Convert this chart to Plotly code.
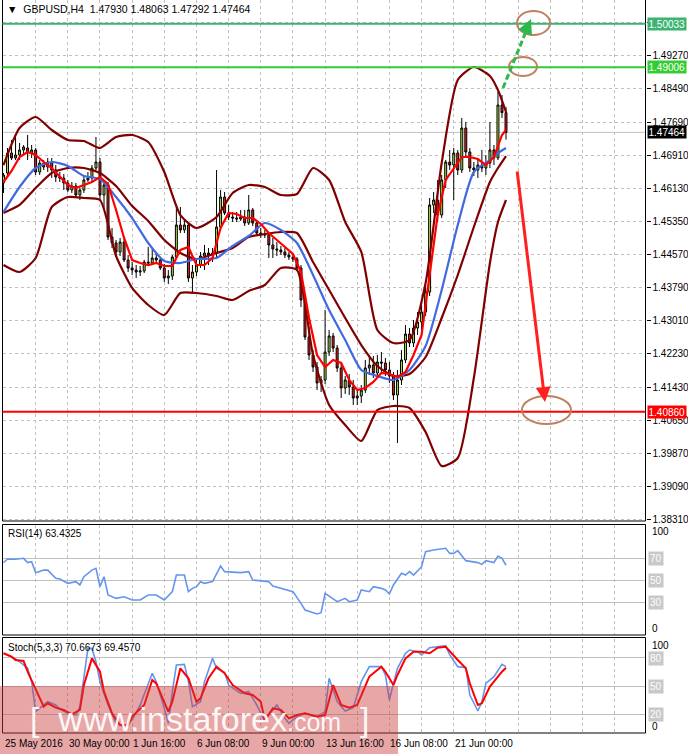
import plotly.graph_objects as go

W, H = 688, 754

# ---------------- data ----------------
time_label_bars = [0, 16, 32, 48, 64, 80, 96, 112]
time_labels = ["25 May 2016", "30 May 00:00", "1 Jun 16:00", "6 Jun 08:00",
               "9 Jun 00:00", "13 Jun 16:00", "16 Jun 08:00", "21 Jun 00:00"]

price_ticks = [1.50050, 1.49270, 1.48490, 1.47690, 1.46910, 1.46130, 1.45350, 1.44570,
               1.43790, 1.43010, 1.42230, 1.41430, 1.40650, 1.39870, 1.39090, 1.38310]

# H4 candles, bar 0 = 25 May 2016
candle_open = [
 1.46267,1.46503,1.46976,1.46858,1.46929,1.47047,1.47094,1.46976,1.47047,1.46527,
 1.4674,1.46645,1.46763,1.46574,1.46409,1.46385,1.46267,1.46101,1.46196,1.45983,
 1.46101,1.46338,1.46385,1.46621,1.46763,1.45983,1.4622,1.4499,1.44849,1.44636,
 1.44872,1.44447,1.44258,1.4421,1.44163,1.44187,1.44399,1.44376,1.44494,1.44447,
 1.44258,1.44021,1.44068,1.44518,1.45274,1.45156,1.45274,1.44021,1.44163,1.44328,
 1.44541,1.44612,1.44565,1.44612,1.45227,1.45936,1.45558,1.45463,1.45439,1.45416,
 1.45463,1.45321,1.45629,1.45321,1.45085,1.45061,1.45038,1.44801,1.44707,1.44683,
 1.44636,1.44565,1.44518,1.4447,1.44258,1.43501,1.42626,1.42201,1.41917,1.41539,
 1.4161,1.42272,1.4265,1.42366,1.41894,1.41421,1.4161,1.41444,1.41184,1.41232,
 1.41373,1.41894,1.41964,1.41775,1.42035,1.42012,1.41846,1.41704,1.41255,1.4161,
 1.42083,1.42697,1.42485,1.42839,1.42981,1.43217,1.4369,1.45747,1.45865,1.4551,
 1.46338,1.46763,1.46692,1.46976,1.46574,1.47567,1.47,1.46621,1.46574,1.46692,
 1.46621,1.4674,1.47047,1.46858,1.48111,1.47930]
candle_high = [
 1.46503,1.47094,1.47283,1.47354,1.47213,1.47165,1.47402,1.47165,1.47094,1.46811,
 1.46811,1.46858,1.46858,1.46692,1.46527,1.4648,1.46338,1.46291,1.46267,1.46149,
 1.46432,1.46527,1.46692,1.47354,1.46858,1.46338,1.46291,1.45203,1.44919,1.44967,
 1.44967,1.44565,1.44399,1.44328,1.44305,1.44447,1.44754,1.4473,1.44636,1.44518,
 1.44352,1.4421,1.44565,1.457,1.457,1.45392,1.45345,1.44328,1.44447,1.44636,
 1.44801,1.4473,1.4473,1.46574,1.46101,1.46054,1.45747,1.45581,1.45581,1.45629,
 1.45629,1.45983,1.45676,1.45392,1.45203,1.45156,1.45109,1.44967,1.44872,1.44778,
 1.4473,1.44636,1.44588,1.44518,1.44328,1.43572,1.42863,1.42319,1.42035,1.41704,
 1.43265,1.42792,1.42721,1.42437,1.41988,1.41704,1.41752,1.4161,1.41373,1.41492,
 1.42083,1.42201,1.42177,1.42201,1.42272,1.4213,1.42035,1.41799,1.41846,1.42319,
 1.4291,1.42839,1.43028,1.43217,1.43383,1.43856,1.45912,1.46054,1.46338,1.46456,
 1.46811,1.47047,1.47094,1.47047,1.47804,1.47709,1.47094,1.46763,1.46858,1.47047,
 1.46929,1.47709,1.47165,1.48418,1.48347,1.48063]
candle_low = [
 1.46031,1.46456,1.46811,1.46811,1.46811,1.46929,1.46811,1.46858,1.46456,1.46456,
 1.46574,1.46527,1.46385,1.46291,1.46291,1.46101,1.46054,1.46031,1.45912,1.45865,
 1.46031,1.46291,1.46291,1.46574,1.45865,1.45629,1.44919,1.4473,1.44518,1.44541,
 1.44399,1.44163,1.44092,1.44021,1.44068,1.44139,1.44305,1.44328,1.44352,1.4421,
 1.43927,1.43879,1.43974,1.44494,1.45085,1.45085,1.43927,1.4369,1.44068,1.44258,
 1.4421,1.44328,1.44399,1.44494,1.45156,1.4551,1.45392,1.45345,1.45345,1.45369,
 1.4525,1.45274,1.4525,1.45014,1.44967,1.44967,1.44494,1.44494,1.44541,1.44565,
 1.44494,1.44447,1.44399,1.44187,1.43336,1.42555,1.42083,1.41799,1.41373,1.41326,
 1.41515,1.42177,1.42272,1.41799,1.41184,1.41279,1.41255,1.41019,1.41019,1.41066,
 1.41303,1.41728,1.41657,1.41681,1.41799,1.41704,1.41539,1.41137,1.4012,1.41492,
 1.42012,1.4239,1.4239,1.42674,1.42792,1.43123,1.43596,1.45558,1.45345,1.45439,
 1.46149,1.46574,1.45865,1.46456,1.46503,1.46905,1.46527,1.46432,1.46385,1.46527,
 1.46456,1.46621,1.46692,1.46811,1.47804,1.47292]
candle_close = [
 1.46456,1.46976,1.46858,1.46929,1.47047,1.47118,1.46976,1.47047,1.46527,1.4674,
 1.46645,1.46763,1.46574,1.46409,1.46385,1.46267,1.46101,1.46196,1.45983,1.46101,
 1.46338,1.46385,1.46621,1.46763,1.45983,1.4622,1.4499,1.44849,1.44636,1.44872,
 1.44447,1.44258,1.4421,1.44163,1.44187,1.44399,1.44376,1.44494,1.44447,1.44258,
 1.44021,1.44068,1.44518,1.45274,1.45156,1.45274,1.44021,1.44163,1.44328,1.44541,
 1.44612,1.44565,1.44612,1.45227,1.45936,1.45558,1.45463,1.45439,1.45416,1.45463,
 1.45321,1.45629,1.45321,1.45085,1.45061,1.45038,1.44801,1.44707,1.44683,1.44636,
 1.44565,1.44518,1.4447,1.44258,1.43501,1.42626,1.42201,1.41917,1.41539,1.4161,
 1.42272,1.4265,1.42366,1.41894,1.41421,1.4161,1.41444,1.41184,1.41232,1.41373,
 1.41894,1.41964,1.41775,1.42035,1.42012,1.41846,1.41704,1.41255,1.4161,1.42083,
 1.42697,1.42485,1.42839,1.42981,1.43217,1.4369,1.45747,1.45865,1.4551,1.46338,
 1.46763,1.46692,1.46976,1.46574,1.47567,1.47,1.46621,1.46574,1.46692,1.46621,
 1.4674,1.47047,1.46858,1.48111,1.47930,1.47464]

bb_idx = [0,4,8,12,16,20,24,28,32,36,40,44,48,53,57,61,65,69,73,77,81,85,89,93,97,101,105,109,113,117,121,123,125]
bb_upper = [1.46692,1.47567,1.47827,1.4752,1.47283,1.4726,1.47094,1.47354,1.47402,1.47236,1.46527,1.4551,
            1.45203,1.45463,1.4603,1.4622,1.46172,1.45983,1.46007,1.46621,1.46338,1.45345,1.44636,1.42792,
            1.42484,1.42555,1.43903,1.4674,1.48702,1.49009,1.48796,1.48465,1.47945]
bb_middle = [1.45558,1.45747,1.46149,1.46503,1.46621,1.46621,1.46503,1.46196,1.45723,1.45369,1.44919,1.44612,
             1.4447,1.44612,1.4473,1.4499,1.45061,1.45109,1.45085,1.44399,1.43737,1.43075,1.42437,1.41941,
             1.41704,1.41752,1.42153,1.43075,1.44092,1.45227,1.46291,1.46621,1.46905]
bb_lower = [1.44328,1.44163,1.44494,1.457,1.45936,1.45912,1.45865,1.44541,1.43785,1.43383,1.43146,1.43666,
            1.43666,1.43596,1.43501,1.43714,1.43856,1.44257,1.4421,1.42201,1.41019,1.40546,1.40168,1.409,
            1.40995,1.40948,1.40381,1.39577,1.39766,1.41657,1.44376,1.45345,1.45865]
ma_slow = [1.45581,1.46172,1.46621,1.46763,1.46669,1.46432,1.46361,1.45936,1.45439,1.44848,1.44423,1.44376,
           1.4447,1.44494,1.44778,1.45014,1.45321,1.45156,1.44848,1.44092,1.43264,1.42555,1.41846,1.41704,
           1.4161,1.41846,1.42413,1.43737,1.45274,1.46527,1.4681,1.46976,1.47094]

ma_fast_idx = [0,2,4,6,8,10,12,14,16,18,20,22,24,26,28,30,32,34,36,38,40,42,44,46,48,50,52,54,56,58,60,
               62,64,66,68,70,72,74,76,78,80,82,84,86,88,90,92,94,96,98,100,102,104,106,108,110,112,114,
               116,118,120,122,124,125]
ma_fast = [1.46291,1.46551,1.46882,1.47,1.46929,1.46763,1.46621,1.46409,1.4622,1.46149,1.4622,1.46291,
           1.46409,1.46243,1.45628,1.44967,1.44446,1.44376,1.44328,1.44376,1.44305,1.44305,1.44683,1.44754,
           1.44328,1.44328,1.44494,1.45203,1.45558,1.45534,1.45439,1.45439,1.45298,1.45085,1.44919,1.44754,
           1.44588,1.44163,1.43075,1.42201,1.41917,1.42082,1.42012,1.4161,1.41373,1.41421,1.41563,1.41775,
           1.41752,1.41681,1.41799,1.42201,1.42674,1.44092,1.4551,1.46338,1.46621,1.46882,1.46882,1.46834,
           1.46692,1.46882,1.47402,1.4752]

rsi_idx = [0,1,3,5,6,7,8,10,11,13,14,16,18,19,20,22,23,24,25,26,28,30,32,34,36,38,40,42,43,45,46,47,48,49,50,
           52,54,55,59,61,62,65,66,67,69,71,72,74,75,78,79,80,83,85,86,88,89,91,92,94,95,96,97,99,100,101,
           102,104,105,107,110,111,112,113,115,118,119,120,122,123,124,125]
rsi_val = [65.7,69.1,68.8,69.7,65.8,66.7,56.6,59,59,51.5,50.9,47,48.5,45.5,53,59,60.6,44,53,36.4,33.3,34.8,
           31.8,31.8,36.4,36.4,31.8,39.4,54.5,54.5,39.4,42.4,43.9,48.5,47,48.5,62.7,57.6,56.7,57.6,50,48.5,
           48.5,44.5,42.4,40.9,39.4,28.8,22.7,19.1,20.3,37.9,30.3,33.3,30.3,31.8,40.9,39.4,43.9,42.4,40.9,
           37.3,45.5,56.1,54.5,57.6,54.5,62.1,75.8,77.3,78.8,74.2,74.2,76.7,67.6,65.8,64.2,67.6,65.8,71.8,
           69.7,63.4]

stoch_k_idx = [0,1,3,4,6,7,8,10,11,13,14,16,18,19,21,22,23,24,26,28,30,32,34,37,38,40,41,42,43,45,46,47,49,
               50,52,53,55,56,59,61,63,65,66,68,70,71,73,75,78,80,81,83,85,87,89,91,94,95,96,97,98,100,101,
               103,104,106,108,110,111,113,115,116,118,119,120,122,124,125]
stoch_k = [84.8,83,78.7,75.9,68.8,54.6,22.7,29.8,33.3,29.8,25.5,20.9,19.1,28,90,90,75.9,54.6,29.8,10.3,6.7,
           13.8,29.8,63.5,54.6,26.2,10.3,44,72.3,73,54.6,28,33.3,54.6,79.4,68.8,64.5,51,42.2,44,29.8,12,19.1,
           29.8,15.6,10.3,17.4,20.9,17.4,22.7,58.2,33.3,23.4,27,54.6,70.6,70.6,61.7,35.1,52.8,68.8,84.8,88.3,
           86.5,83,90.8,91.8,92.9,83,70.6,69.5,40.4,23.4,33.3,52.8,60,73,70.6]
stoch_d_idx = [0,2,3,5,6,8,10,11,13,15,17,19,20,22,24,25,27,29,31,32,35,37,38,41,42,44,46,48,49,51,53,55,57,
               60,62,64,65,67,69,71,73,75,78,80,82,84,86,88,91,94,95,97,98,100,102,104,106,108,110,113,115,
               116,118,119,121,124,125]
stoch_d = [84.8,81.2,77.7,76.6,65.2,45.7,28,31.6,27,24.5,19.9,24.5,51,79.4,65.2,44,20.9,8.5,8.5,17.4,29.8,
           56.4,52.8,22.7,33.3,68.8,58.2,33.3,36.9,58.2,70.6,63.5,51,42.2,40.4,33.3,13.8,26.2,24.5,15.6,19.1,
           20.9,17.4,19.1,51,29.8,27,29.8,60,70.6,65.2,51,61.7,79.4,86.5,86.5,84.8,90.8,91.8,77.7,68.8,52.8,
           29.8,31.6,49.3,65.2,69.5]

levels = [(1.50033, "#3CB371"), (1.49006, "#32CD32"), (1.47464, "#C0C0C0"), (1.40860, "#FF0000")]

# ---------------- geometry (pixel layout of the terminal window) ----------------
bars = list(range(len(candle_close)))
XL, XR = 2.5, 645.5
BAR0, BARW = 3.5, 4.02
def bx(p):
    return (p - BAR0) / BARW
P_TOP, P_SCALE = 1.50593, 0.0002364   # price at pixel row 0, price per pixel
def pprice(p):
    return P_TOP - P_SCALE * p
def py(p):
    return 1 - p / H
def ppx(p):
    return p / W

MAIN = (0, 521); RSI = (525, 635); STO = (639, 733)

fig = go.Figure()
fig.add_trace(go.Candlestick(x=bars, open=candle_open, high=candle_high, low=candle_low, close=candle_close,
                             increasing=dict(fillcolor="#A8E63C", line=dict(color="black", width=1)),
                             decreasing=dict(fillcolor="#E8201C", line=dict(color="black", width=1)),
                             whiskerwidth=0, showlegend=False, xaxis="x", yaxis="y"))
for arr, col in [(bb_upper, "#800000"), (bb_middle, "#800000"), (bb_lower, "#800000"), (ma_slow, "#4169E1")]:
    fig.add_trace(go.Scatter(x=bb_idx, y=arr, mode="lines", line=dict(color=col, width=2.2, shape="spline", smoothing=0.6),
                             showlegend=False, xaxis="x", yaxis="y", hoverinfo="skip"))
fig.add_trace(go.Scatter(x=ma_fast_idx, y=ma_fast, mode="lines", line=dict(color="#FF0000", width=2.2),
                         showlegend=False, xaxis="x", yaxis="y"))
fig.add_trace(go.Scatter(x=rsi_idx, y=rsi_val, mode="lines", line=dict(color="#6495ED", width=1.6),
                         showlegend=False, xaxis="x2", yaxis="y2"))
fig.add_trace(go.Scatter(x=stoch_k_idx, y=stoch_k, mode="lines", line=dict(color="#6495ED", width=1.6),
                         showlegend=False, xaxis="x3", yaxis="y3"))
fig.add_trace(go.Scatter(x=stoch_d_idx, y=stoch_d, mode="lines", line=dict(color="#FF0000", width=2),
                         showlegend=False, xaxis="x3", yaxis="y3"))

grid_bars = list(range(8, 161, 8))
gx = dict(range=[bx(XL), bx(XR)], domain=[ppx(XL), ppx(XR)], showgrid=True, gridcolor="#C0C0C0",
          griddash="3px,3px", tickvals=grid_bars, showticklabels=False, ticks="", zeroline=False,
          showline=False, fixedrange=True)
fig.update_layout(
    width=W, height=H, margin=dict(l=0, r=0, t=0, b=0, autoexpand=False), paper_bgcolor="white",
    plot_bgcolor="white",
    font=dict(family="Liberation Sans, Arial, sans-serif", size=10, color="black"),
    xaxis=dict(**gx, anchor="y", rangeslider=dict(visible=False)),
    xaxis2=dict(**gx, anchor="y2", matches="x"),
    xaxis3=dict(**gx, anchor="y3", matches="x"),
    yaxis=dict(domain=[py(MAIN[1]), py(MAIN[0])], range=[pprice(MAIN[1]), pprice(MAIN[0])], side="right",
               tickvals=price_ticks, ticktext=[("%.5f" % v) if v < 1.5 else "" for v in price_ticks],
               showgrid=True, gridcolor="#C0C0C0", griddash="3px,3px", ticks="outside", ticklen=4,
               tickcolor="black", zeroline=False, fixedrange=True, automargin=False),
    yaxis2=dict(domain=[py(RSI[1]), py(RSI[0])], range=[0, 100], side="right", showticklabels=False,
                tickvals=[70, 50, 30], showgrid=True, gridcolor="#C0C0C0", ticks="", zeroline=False,
                automargin=False),
    yaxis3=dict(domain=[py(STO[1]), py(STO[0])], range=[0, 100], side="right", showticklabels=False,
                tickvals=[80, 50, 20], showgrid=True, gridcolor="#C0C0C0", ticks="", zeroline=False,
                automargin=False),
    showlegend=False,
)

shapes = []
for top, bot in [(-1, MAIN[1]), (RSI[0] - 0.5, RSI[1]), (STO[0] - 1.5, STO[1])]:
    shapes.append(dict(type="rect", xref="paper", yref="paper", x0=ppx(XL), x1=ppx(XR), y0=py(bot), y1=py(top),
                       line=dict(color="black", width=1), layer="above"))
for val, col in levels:
    shapes.append(dict(type="line", xref="paper", yref="y", x0=ppx(XL), x1=ppx(XR), y0=val, y1=val,
                       line=dict(color=col, width=1 if col == "#C0C0C0" else 2),
                       layer="below" if col == "#C0C0C0" else "above"))
for (x0, y0, x1, y1) in [(517, 11, 550, 35), (509, 57, 537, 76), (522, 396, 571, 424)]:
    shapes.append(dict(type="circle", xref="paper", yref="paper", x0=ppx(x0), x1=ppx(x1), y0=py(y1), y1=py(y0),
                       line=dict(color="#C08060", width=2)))
shapes.append(dict(type="line", xref="paper", yref="paper", x0=ppx(503), y0=py(88), x1=ppx(527), y1=py(29),
                   line=dict(color="#2DB84D", width=3, dash="6px,3px")))
shapes.append(dict(type="rect", xref="paper", yref="paper", x0=0, x1=ppx(398), y0=0, y1=py(686),
                   fillcolor="rgba(205,60,60,0.45)", line=dict(width=0), layer="above"))
fig.update_layout(shapes=shapes)

ann = []
def txt(x, y, s, **kw):
    d = dict(xref="paper", yref="paper", x=ppx(x), y=py(y), text=s, showarrow=False, xanchor="left",
             yanchor="middle", font=dict(size=10, color="black"))
    d.update(kw)
    ann.append(d)

txt(5, 9, "▼  GBPUSD,H4  1.47930 1.48063 1.47292 1.47464", font=dict(size=10.5, color="black"))
txt(6, 533, "RSI(14) 63.4325")
txt(6, 647, "Stoch(5,3,3) 70.6673 69.4570")
for val, col in levels:
    bg = "black" if col == "#C0C0C0" else col
    ann.append(dict(xref="paper", yref="y", x=ppx(647), y=val, text="%.5f" % val, showarrow=False,
                    xanchor="left", yanchor="middle", bgcolor=bg, font=dict(size=10, color="white"), borderpad=0.5))
for s, y in [("100", 531), ("0", 628), ("100", 645), ("0", 726)]:
    txt(650, y, s)
for s, y in [("70", 558), ("50", 580), ("30", 602), ("80", 658), ("50", 686), ("20", 714)]:
    txt(648, y, s, bgcolor="#C8C8C8", font=dict(size=10, color="white"))
for b, s in zip(time_label_bars, time_labels):
    ann.append(dict(xref="x3", yref="paper", x=b, y=py(743), text=s, showarrow=False, xanchor="left",
                    yanchor="middle", xshift=-1, font=dict(size=10, color="black")))
ann.append(dict(xref="paper", yref="paper", x=ppx(531), y=py(19), ax=-6, ay=14,
                showarrow=True, arrowhead=2, arrowsize=1, arrowwidth=3, arrowcolor="#2DB84D", text=""))
ann.append(dict(xref="paper", yref="paper", x=ppx(545), y=py(402), ax=-28, ay=-232,
                showarrow=True, arrowhead=2, arrowsize=1, arrowwidth=3, arrowcolor="#FF2020", text=""))
ann.append(dict(xref="paper", yref="paper", x=ppx(200), y=py(719),
                text="[  www.instaforex<span style='font-size:25px'>.com</span>  ]", showarrow=False,
                xanchor="center", yanchor="middle", font=dict(size=34, color="rgba(255,255,255,0.92)",
                family="Liberation Sans, Arial, sans-serif")))
fig.update_layout(annotations=ann)

fig.write_html("out.html", config={"displayModeBar": False},
               post_script="document.body.style.margin='0px';document.body.style.padding='0px';")
